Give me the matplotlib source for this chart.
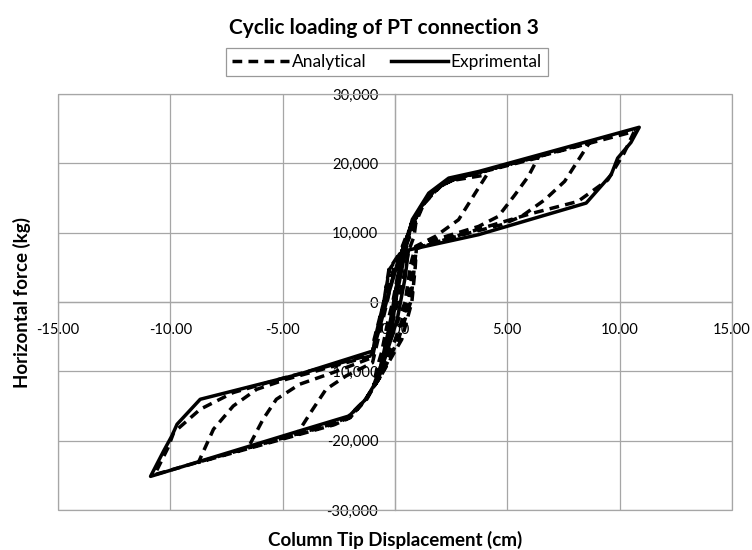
import matplotlib
matplotlib.use("Agg")
import matplotlib.pyplot as plt
from matplotlib.patches import Rectangle
from matplotlib.ticker import FuncFormatter

plt.rcParams['font.family'] = ['Lato', 'DejaVu Sans']
plt.rcParams['axes.unicode_minus'] = False

title = "Cyclic loading of PT connection 3"
x_label = "Column Tip Displacement (cm)"
y_label = "Horizontal force (kg)"
series_names = ["Analytical", "Exprimental"]

# Analytical (dashed) – displacement (cm), force (kg)
ana_x = [0, 0.2, 0.45, 0.3, 0.05, -0.25, -0.5, -0.35, -0.05,
         0.2, 0.5, 0.95, 0.85, 0.6, 0.35, -0.15, -0.55, -0.95, -0.8, -0.6, -0.3,
         -0.1, 0.4, 1.1, 1.8, 2.5, 4.09, 3.57, 2.83, 1.8, 0.92, 0.7, 0.45, -0.2, -0.6, -1.3, -2.1, -2.8,
         -4.32, -3.66, -3.07, -2.18, -1.0, -0.8, -0.35,
         -0.15, 0.55, 1.2, 1.9, 2.6, 6.37, 5.93, 5.34, 4.6, 3.72, 2.0, 0.95, 0.8, 0.6, 0.0, -0.65, -1.25, -2.0, -2.7,
         -6.53, -5.87, -5.28, -4.25, -2.77, -1.0, -0.85, -0.45,
         -0.2, 0.5, 1.25, 2.0, 2.7, 8.66, 7.55, 6.67, 5.63, 4.75, 3.0, 0.95, 0.85, 0.7, 0.15, -0.6, -1.3, -2.0, -2.7,
         -8.75, -8.08, -7.2, -6.16, -4.84, -3.0, -1.0, -0.9, -0.5,
         -0.25, 0.47, 1.3, 2.1, 2.8, 10.65, 10.2, 9.47, 8.14, 6.0, 3.72, 0.95, 0.9, 0.75, 0.3, -0.6, -1.3, -2.04, -2.7,
         -10.7, -10.1, -9.85, -8.67, -7.2, -5.0, -1.0, -0.93, -0.5, -0.27, 0.3]
ana_y = [0, 4000, 7500, 6500, 1000, -4000, -7500, -6500, -1000,
         4000, 8500, 12000, 9500, 7300, 3000, -3500, -8500, -12000, -9500, -7300, -2500,
         0, 8500, 13500, 16300, 17500, 18350, 15700, 11870, 9470, 8030, 5500, 0, -5500, -10500, -14000, -16600, -17500,
         -18820, -15470, -12590, -10670, -8750, -6000, 0,
         3000, 9500, 14000, 16600, 17700, 20800, 18100, 15470, 12350, 10900, 9200, 7900, 5000, 0, -5500, -10500, -14000, -16600, -17600,
         -20980, -16900, -14030, -11870, -10190, -8000, -5400, 0,
         3500, 9500, 14000, 16700, 17800, 23000, 17400, 14750, 12350, 11150, 9700, 7800, 4700, 0, -5400, -10500, -14000, -16700, -17700,
         -23140, -18350, -15000, -12600, -11150, -9500, -7700, -5400, 0,
         4700, 8000, 14300, 16900, 17900, 24600, 21500, 17600, 14500, 12700, 10500, 7700, 5000, 0, -5400, -10500, -14000, -16500, -17500,
         -24900, -21000, -18820, -15470, -13060, -11000, -7550, -5400, 0, 4700, 7500]

# Experimental (solid)
exp_x = [0, 0.15, 0.35, 0.2, -0.1, -0.35, -0.2, 0.05,
         0.3, 0.55, 0.75, 0.5, 0.2, -0.2, -0.5, -0.8, -0.55, -0.25, 0.05,
         0.47, 0.77, 1.5, 2.39, 3.72, 10.87, 10.5, 9.91, 9.62, 8.51, 3.72, 0.6,
         0.45, 0.1, -0.7, -1.3, -2.04, -4.25, -10.88, -10.3, -9.93, -9.7, -8.67, -4.25, -1.0,
         -0.75, -0.3, 0.2, 0.47]
exp_y = [0, 3000, 6500, 5000, -1500, -6000, -5000, 1000,
         6000, 9500, 11500, 8000, 3000, -3500, -8500, -11500, -8000, -3500, 2000,
         8000, 11900, 15700, 17870, 18820, 25200, 23000, 20750, 18350, 14270, 9710, 7500,
         3500, -2500, -10700, -14030, -16430, -18590, -25150, -21500, -19300, -17630, -14030, -10400, -7080,
         -4500, 1000, 6500, 8000]

x_ticks = [-15, -10, -5, 0, 5, 10, 15]
y_ticks = [-30000, -20000, -10000, 0, 10000, 20000, 30000]

fig = plt.figure(figsize=(7.52, 5.5), dpi=100)
ax = fig.add_axes([58/752, 1-510/550, (732-58)/752, (510-94)/550])

grid_c = '#a6a6a6'
la, = ax.plot(ana_x, ana_y, color='black', lw=2.5, ls=(0, (2.8, 1.8)),
              dash_capstyle='butt', label=series_names[0], zorder=3)
le, = ax.plot(exp_x, exp_y, color='black', lw=2.5, label=series_names[1], zorder=4,
              solid_joinstyle='round')

ax.set_xlim(-15, 15)
ax.set_ylim(-30000, 30000)
ax.set_xticks(x_ticks)
ax.set_yticks(y_ticks)
ax.xaxis.set_major_formatter(FuncFormatter(lambda v, p: f"{v:.2f}"))
ax.yaxis.set_major_formatter(FuncFormatter(lambda v, p: f"{v:,.0f}"))
ax.grid(True, color=grid_c, lw=0.9)
ax.set_axisbelow(True)

for s in ['top', 'right']:
    ax.spines[s].set_visible(False)
ax.spines['left'].set_position(('data', 0))
ax.spines['bottom'].set_position(('data', 0))
for s in ['left', 'bottom']:
    ax.spines[s].set_color(grid_c)
    ax.spines[s].set_linewidth(0.9)
ax.add_patch(Rectangle((0, 0), 1, 1, transform=ax.transAxes, fill=False,
                       edgecolor=grid_c, lw=0.9, clip_on=False, zorder=1))

ax.tick_params(axis='both', length=0, labelsize=10.6, labelcolor='black')
ax.tick_params(axis='x', pad=15)
ax.tick_params(axis='y', pad=12)

fig.text(384/752, 1-28/550, title, ha='center', va='center', fontsize=15, fontweight='bold')
fig.text(395/752, 1-540/550, x_label, ha='center', va='center', fontsize=13.5, fontweight='bold')
fig.text(22/752, 1-302/550, y_label, ha='center', va='center', rotation=90, fontsize=13.5, fontweight='bold')

leg = fig.legend(handles=[la, le], loc='center', bbox_to_anchor=(387/752, 1-62/550), ncol=2,
                 fontsize=12.5, frameon=True, fancybox=False, edgecolor='#808080',
                 handlelength=3.3, handletextpad=0.15, columnspacing=1.4, borderpad=0.35)
leg.get_frame().set_linewidth(0.9)

fig.savefig("out.png", dpi=100)
